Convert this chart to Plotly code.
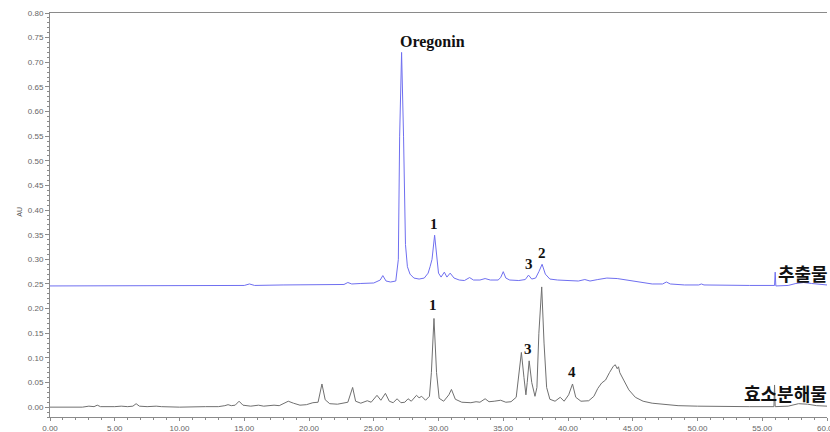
import plotly.graph_objects as go

# Upper trace (추출물) : retention time (min) and absorbance (AU)
extract_time = [0, 2, 5, 8, 10, 12, 14, 15.0, 15.4, 15.8, 18, 20, 22, 22.7, 23.0, 23.3, 24.0, 25.0,
                25.5, 25.7, 25.95, 26.3, 26.7, 26.9, 27.0, 27.15, 27.3, 27.45, 27.6, 27.8, 28.1,
                28.5, 28.9, 29.2, 29.35, 29.5, 29.7, 29.85, 30.0, 30.2, 30.45, 30.65, 30.9, 31.2,
                31.6, 32.0, 32.4, 32.7, 33.2, 33.6, 34.0, 34.6, 34.8, 35.0, 35.2, 35.5, 36.2,
                36.7, 36.95, 37.2, 37.5, 37.75, 38.0, 38.25, 38.6, 39.2, 40.0, 40.8, 41.3, 41.7,
                42.3, 43.0, 43.8, 44.5, 45.5, 46.5, 47.3, 47.6, 47.9, 49, 50.1, 50.3, 50.5, 52,
                54, 55.95, 56.0, 56.05, 57.0, 57.6, 58.2, 58.8, 59.5, 60]
extract_au = [0.246, 0.246, 0.246, 0.246, 0.246, 0.247, 0.247, 0.247, 0.250, 0.247, 0.248, 0.248,
              0.249, 0.249, 0.253, 0.250, 0.251, 0.252, 0.258, 0.267, 0.256, 0.254, 0.256, 0.300,
              0.550, 0.720, 0.550, 0.330, 0.285, 0.270, 0.262, 0.260, 0.262, 0.272, 0.285, 0.300,
              0.349, 0.310, 0.272, 0.264, 0.274, 0.264, 0.272, 0.262, 0.258, 0.257, 0.263, 0.258,
              0.258, 0.261, 0.258, 0.258, 0.263, 0.275, 0.262, 0.258, 0.257, 0.259, 0.268, 0.260,
              0.262, 0.275, 0.290, 0.270, 0.260, 0.258, 0.257, 0.256, 0.259, 0.256, 0.259, 0.262,
              0.261, 0.258, 0.253, 0.250, 0.250, 0.254, 0.250, 0.248, 0.248, 0.250, 0.248, 0.247,
              0.247, 0.247, 0.274, 0.246, 0.247, 0.251, 0.253, 0.251, 0.249, 0.248]

# Lower trace (효소분해물)
hydro_time = [0, 2.5, 3.0, 3.4, 3.65, 3.9, 5.0, 5.5, 6.0, 6.4, 6.65, 6.9, 7.5, 8.2, 8.6, 10, 12,
              13.0, 13.5, 13.75, 14.0, 14.3, 14.6, 14.9, 15.5, 16.1, 16.5, 17.3, 17.7, 18.1, 18.4,
              18.8, 19.3, 19.8, 20.3, 20.7, 21.0, 21.25, 21.6, 22.2, 22.6, 23.0, 23.37, 23.6, 24.0,
              24.5, 24.8, 25.25, 25.55, 25.9, 26.2, 26.5, 26.8, 27.1, 27.4, 27.65, 27.9, 28.1,
              28.3, 28.5, 28.7, 29.0, 29.3, 29.45, 29.65, 29.85, 30.05, 30.4, 30.8, 31.0, 31.3,
              31.8, 32.5, 32.9, 33.2, 33.6, 33.9, 34.3, 34.8, 35.2, 35.6, 36.0, 36.2, 36.4, 36.6,
              36.75, 36.85, 37.0, 37.2, 37.45, 37.6, 37.75, 37.97, 38.15, 38.35, 38.6, 39.0, 39.4,
              39.7, 40.05, 40.35, 40.6, 41.0, 41.6, 42.0, 42.3, 42.6, 42.9, 43.2, 43.5, 43.65,
              43.8, 43.9, 44.0, 44.3, 44.7, 45.2, 45.8, 46.5, 47.5, 48.5, 50, 52, 54, 55.9, 55.95,
              56.0, 57.0, 57.8, 58.5, 59.2, 60]
hydro_au = [0.0, 0.0, 0.002, 0.001, 0.004, 0.001, 0.001, 0.002, 0.001, 0.002, 0.007, 0.002, 0.001,
            0.002, 0.001, 0.0, 0.001, 0.001, 0.003, 0.005, 0.003, 0.004, 0.012, 0.004, 0.002,
            0.004, 0.002, 0.004, 0.003, 0.008, 0.012, 0.008, 0.004, 0.005, 0.009, 0.010, 0.047,
            0.015, 0.007, 0.006, 0.008, 0.010, 0.040, 0.012, 0.008, 0.013, 0.010, 0.024, 0.014,
            0.028, 0.012, 0.009, 0.017, 0.009, 0.010, 0.017, 0.012, 0.018, 0.024, 0.019, 0.022,
            0.014, 0.022, 0.070, 0.180, 0.070, 0.018, 0.012, 0.025, 0.036, 0.016, 0.010, 0.009,
            0.011, 0.010, 0.017, 0.011, 0.012, 0.014, 0.010, 0.011, 0.020, 0.070, 0.111, 0.060,
            0.025, 0.050, 0.094, 0.050, 0.022, 0.040, 0.150, 0.244, 0.130, 0.040, 0.016, 0.012,
            0.020, 0.012, 0.025, 0.047, 0.020, 0.012, 0.013, 0.022, 0.038, 0.049, 0.055, 0.070,
            0.083, 0.086, 0.078, 0.082, 0.070, 0.055, 0.035, 0.020, 0.012, 0.008, 0.005, 0.003,
            0.002, 0.001, 0.001, 0.001, 0.045, 0.001, 0.002, 0.007, 0.006, 0.003, 0.002]

# Peak labels
peak_labels = ["Oregonin", "1", "3", "2", "1", "3", "4"]
peak_x = [29.55, 29.65, 37.0, 37.97, 29.6, 36.93, 40.33]
peak_y = [0.7415, 0.372, 0.291, 0.312, 0.207, 0.118, 0.072]

trace_names = ["추출물", "효소분해물"]
name_x = [58.15, 56.8]
name_y = [0.273, 0.028]

fig = go.Figure()
fig.add_trace(go.Scatter(x=extract_time, y=extract_au, mode="lines",
                         line=dict(color="#6f6ff0", width=1), name=trace_names[0]))
fig.add_trace(go.Scatter(x=hydro_time, y=hydro_au, mode="lines",
                         line=dict(color="#707070", width=1), name=trace_names[1]))

for i, (t, x, y) in enumerate(zip(peak_labels, peak_x, peak_y)):
    fig.add_annotation(x=x, y=y, text="<b>%s</b>" % t, showarrow=False,
                       font=dict(family="Liberation Serif", size=16 if i == 0 else 15,
                                 color="#111111"))
for t, x, y in zip(trace_names, name_x, name_y):
    fig.add_annotation(x=x, y=y, text="<b>%s</b>" % t, showarrow=False,
                       font=dict(family="Noto Sans CJK KR", size=18, color="#111111"))

fig.add_annotation(xref="paper", yref="paper", x=0, y=0.507, xshift=-36, text="AU",
                   textangle=-90, showarrow=False,
                   font=dict(family="Liberation Sans", size=7, color="#555555"))
fig.add_annotation(xref="paper", yref="paper", x=0.50, y=0, yshift=-14, text="Minutes",
                   showarrow=False, yanchor="top",
                   font=dict(family="Liberation Sans", size=7, color="#555555"))

axis_font = dict(family="Liberation Sans", size=8, color="#666666")
fig.update_xaxes(range=[0, 60], dtick=5, tick0=0, tickformat=".2f", showgrid=False,
                 zeroline=False, showline=True, linecolor="#8a8a8a", linewidth=1,
                 mirror=True, ticks="outside", ticklen=3, tickcolor="#8a8a8a",
                 tickfont=axis_font, ticklabeloverflow="allow", automargin=False,
                 minor=dict(dtick=1, ticks="outside", ticklen=2, tickcolor="#8a8a8a"))
fig.update_yaxes(range=[-0.02, 0.80], dtick=0.05, tick0=0, tickformat=".2f", showgrid=False,
                 zeroline=False, showline=True, linecolor="#8a8a8a", linewidth=1,
                 ticks="outside", ticklen=4, tickcolor="#8a8a8a", tickfont=axis_font,
                 automargin=False,
                 minor=dict(dtick=0.01, ticks="outside", ticklen=2, tickcolor="#8a8a8a"))

fig.update_layout(width=830, height=432, autosize=False, showlegend=False,
                  margin=dict(l=50, r=3, t=13, b=15),
                  plot_bgcolor="white", paper_bgcolor="white")

fig.write_html("out.html")
